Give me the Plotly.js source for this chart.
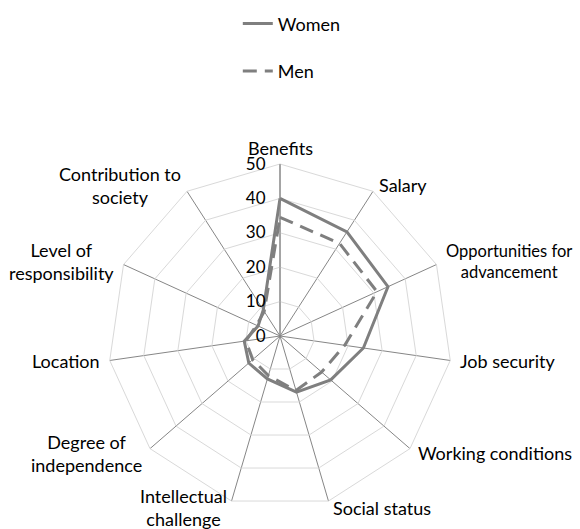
<!DOCTYPE html>
<html>
<head>
<meta charset="utf-8">
<script src="https://cdn.plot.ly/plotly-3.0.1.min.js"></script>
<style>html,body{margin:0;padding:0;background:#fff;}#chart{width:580px;height:529px;}</style>
</head>
<body>
<div id="chart"></div>
<script>
const categories = ["Benefits", "Salary", "Opportunities for<br>advancement", "Job security", "Working conditions", "Social status", "Intellectual<br>challenge", "Degree of<br>independence", "Location", "Level of<br>responsibility", "Contribution to<br>society"];
const women = [40, 36, 34.5, 24.5, 19.5, 17, 13, 12, 10.5, 7, 9];
const men = [34.5, 32, 31, 19, 16, 16.5, 12, 10.5, 10, 7.5, 8.5];
const radialTicks = [0, 10, 20, 30, 40, 50];

function closed(a) { return a.concat([a[0]]); }

const W = 580, H = 529;
const FAM = "Lato, 'Liberation Sans', sans-serif";
const font = {family: FAM, size: 18, color: "#000"};
const domain = {x: [108 / W, 452 / W], y: [21 / H, 365 / H]};

// Category labels placed just outside each spoke end (derived from the polar domain)
const cxPaper = (domain.x[0] + domain.x[1]) / 2;
const cyPaper = (domain.y[0] + domain.y[1]) / 2;
const rxPaper = (domain.x[1] - domain.x[0]) / 2;
const ryPaper = (domain.y[1] - domain.y[0]) / 2;
const annotations = categories.map((c, i) => {
  const th = i * 2 * Math.PI / categories.length;
  const s = Math.sin(th), co = Math.cos(th);
  const xanchor = s > 0.2 ? "left" : (s < -0.2 ? "right" : "center");
  const yanchor = co > 0.95 ? "bottom" : "middle";
  const longest = Math.max(...c.split("<br>").map(t => t.length));
  const f = Object.assign({}, font, {size: (s > 0.8 && longest > 16 && c.indexOf("<br>") > 0) ? 16.5 : 18});
  return {
    xref: "paper", yref: "paper", showarrow: false, text: c, font: f,
    x: cxPaper + rxPaper * s, y: cyPaper + ryPaper * co,
    xanchor: xanchor, yanchor: yanchor, align: "center",
    xshift: 8 * s, yshift: co > 0.95 ? 3 : 7 * co
  };
});

const traces = [
  {type: "scatterpolar", mode: "lines", name: "Women", r: closed(women), theta: closed(categories),
   line: {color: "#7f7f7f", width: 3}, legendgroup: "w"},
  {type: "scatterpolar", mode: "lines", name: "Men", r: closed(men), theta: closed(categories),
   line: {color: "#7f7f7f", width: 3, dash: "14px,8px"}, legendgroup: "m"}
];

const layout = {
  width: W, height: H,
  margin: {l: 0, r: 0, t: 0, b: 0},
  paper_bgcolor: "#fff",
  font: font,
  showlegend: true,
  legend: {x: 0.41, xanchor: "left", y: 0.99, yanchor: "top", orientation: "v",
           tracegroupgap: 21, font: font, bgcolor: "rgba(0,0,0,0)"},
  annotations: annotations,
  polar: {
    domain: domain,
    bgcolor: "#fff",
    gridshape: "linear",
    radialaxis: {range: [0, 50], tickvals: radialTicks, ticktext: radialTicks.map(String),
                 angle: 90, tickangle: 90, side: "counterclockwise", showline: true, linecolor: "#868686", linewidth: 1,
                 gridcolor: "#d9d9d9", gridwidth: 1, ticks: "outside", ticklen: 8, tickcolor: "rgba(0,0,0,0)",
                 tickfont: {family: FAM, size: 17, color: "#000"}},
    angularaxis: {direction: "clockwise", rotation: 90, gridcolor: "#868686", gridwidth: 1,
                  linecolor: "#d9d9d9", linewidth: 1, ticks: "", showticklabels: false}
  }
};

Plotly.newPlot("chart", traces, layout, {displayModeBar: false, staticPlot: true});
</script>
</body>
</html>
